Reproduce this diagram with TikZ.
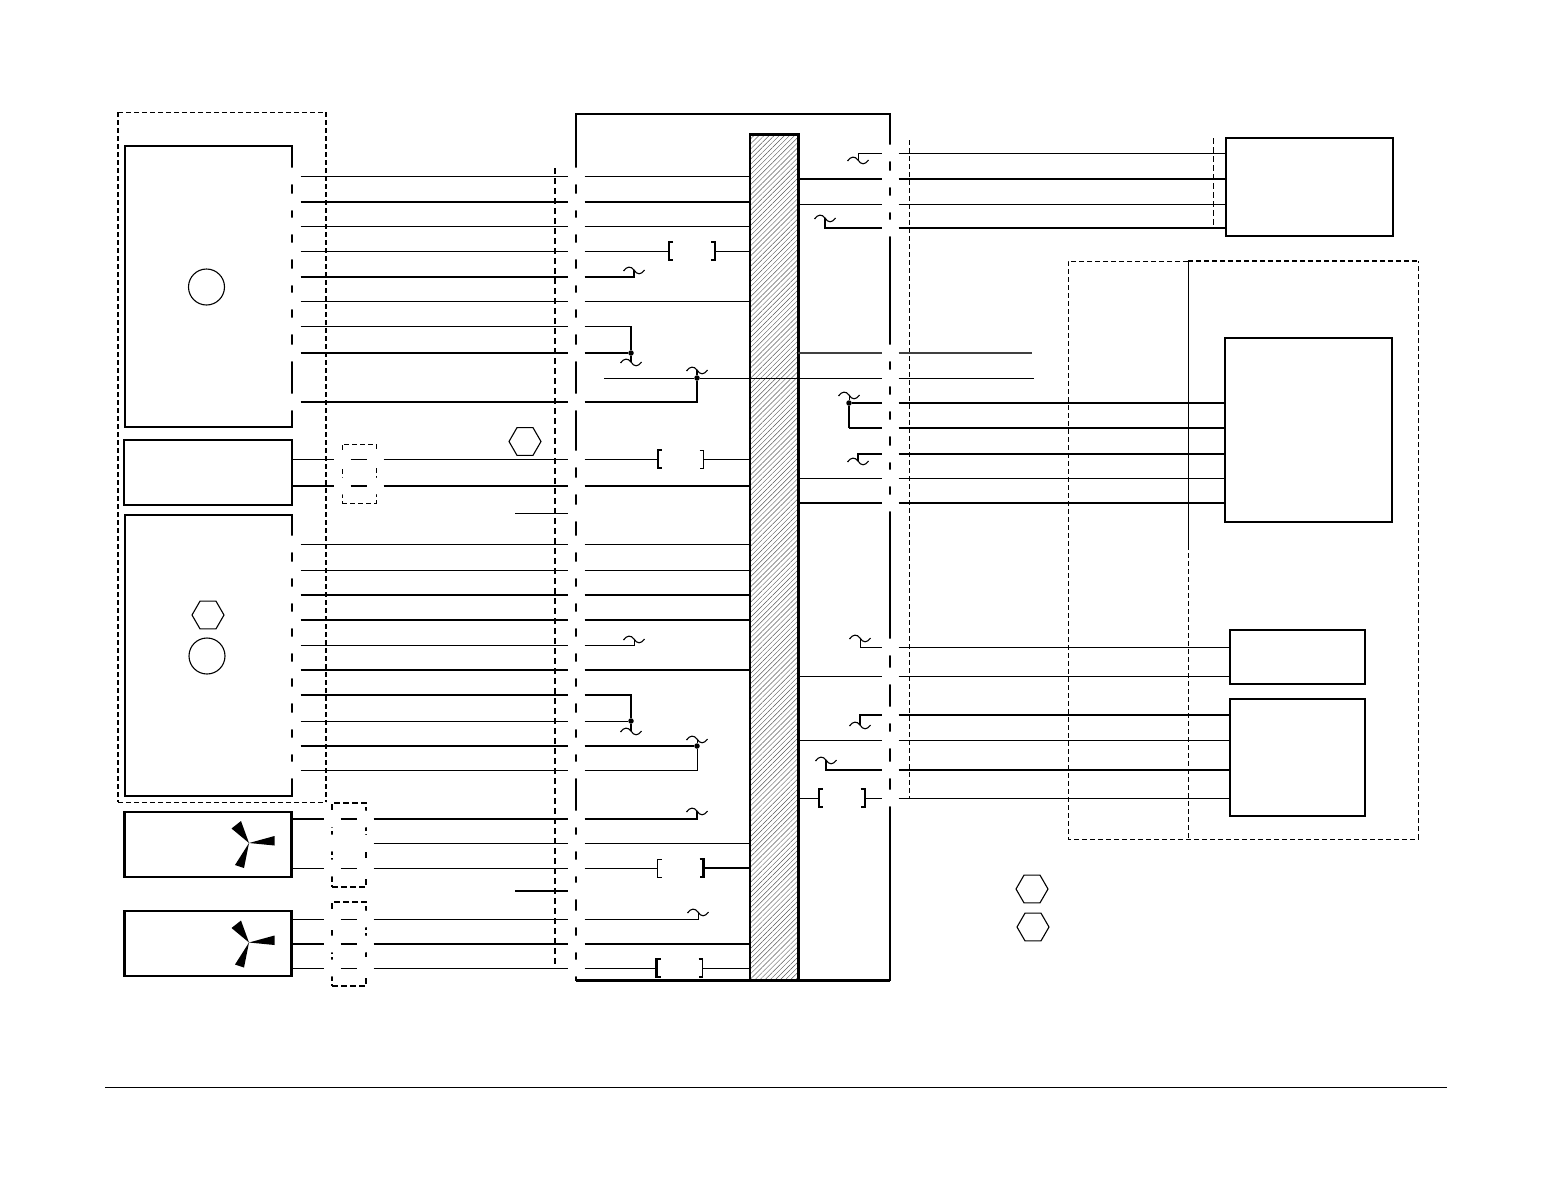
\documentclass[tikz,border=0pt]{standalone}
\usepackage{tikz}
\usetikzlibrary{patterns.meta,shapes.geometric}

\tikzset{
	wire/.style={line width=1pt},
	hwire/.style={line width=2pt},
	mwire/.style={line width=1.5pt},
	pin/.style={circle,fill=white,inner sep=0pt,outer sep=0pt,minimum size=17pt},
	unit/.style={draw,line width=2.2pt,inner sep=0pt,outer sep=0pt},
	heavyunit/.style={draw,line width=2.6pt,inner sep=0pt,outer sep=0pt},
	enclosure/.style={draw,line width=1pt,dash pattern=on 5pt off 3pt,inner sep=0pt,outer sep=0pt},
	boldedge/.style={line width=1.6pt,dash pattern=on 5pt off 3pt},
	thinedge/.style={line width=1pt,dash pattern=on 5pt off 3pt},
	plug/.style={draw,line width=1.2pt,dash pattern=on 6pt off 3pt,inner sep=0pt,outer sep=0pt},
	hexmark/.style={draw,regular polygon,regular polygon sides=6,line width=1.1pt,inner sep=0pt,minimum size=32pt},
	roundmark/.style={draw,circle,line width=1.1pt,inner sep=0pt,minimum size=36pt},
	dot/.style={circle,fill=black,inner sep=0pt,minimum size=5.5pt},
	fusegap/.style={inner sep=0pt,outer sep=0pt,minimum width=46pt,minimum height=18pt},
	wave/.pic={
		\draw[line width=1.1pt] (-10.5,1) .. controls (-7,-4) and (-3,-4) .. (0,0) .. controls (3,5) and (7,5) .. (10.5,0);
	},
	fan/.pic={
		\fill (0,0) -- (-17.5,-14.5) -- (-8,-22) -- cycle;
		\fill (0,0) -- (25.5,-7) -- (25.5,2.5) -- cycle;
		\fill (0,0) -- (-14,22) -- (-5,25) -- cycle;
	}
}

\newcommand{\fuseclip}[5]{
	\node[fusegap] (#1) at (#2,#3) {};
	\draw[line width=#4pt] ([xshift=4pt]#1.north west) -- (#1.north west) -- (#1.south west) -- ([xshift=4pt]#1.south west);
	\draw[line width=#5pt] ([xshift=-4pt]#1.north east) -- (#1.north east) -- (#1.south east) -- ([xshift=-4pt]#1.south east);
}

\begin{document}
\begin{tikzpicture}[x=1pt,y=-1pt]
	\useasboundingbox (0,0) rectangle (1552,1200);

	% cabinets on the left
	\node[inner sep=0pt,outer sep=0pt,minimum width=208,minimum height=690] (hood) at (222,457) {};
	\draw[thinedge] (hood.north west) -- (hood.north east);
	\draw[thinedge] (hood.south west) -- (hood.south east);
	\draw[boldedge] (hood.north east) -- (hood.south east);
	\draw[boldedge] (hood.north west) -- (hood.south west);
	\node[unit,minimum width=167,minimum height=281] (upper) at (208.5,286.5) {};
	\node[heavyunit,minimum width=168,minimum height=65] (lamp) at (208,472.5) {};
	\node[unit,minimum width=167,minimum height=281] (lower) at (208.5,655.5) {};
	\node[heavyunit,minimum width=167,minimum height=65] (fanA) at (208,844.5) {};
	\node[heavyunit,minimum width=167,minimum height=65] (fanB) at (208,943.5) {};
	\node[roundmark] (mark1) at (206.5,287) {};
	\node[roundmark] (mark2) at (207,656) {};
	\node[hexmark] (hex1) at (208,615) {};
	\node[hexmark] (hex2) at (525,441.5) {};
	\pic at (249,843) {fan};
	\pic at (249,942.5) {fan};

	% plugs between
	\node[enclosure,minimum width=34,minimum height=59] (plugA) at (359,473.5) {};
	\node[plug,minimum width=34,minimum height=84] (plugB) at (349,845) {};
	\node[plug,minimum width=34,minimum height=84] (plugC) at (349,944) {};
	\draw[line width=1.5pt,dash pattern=on 6pt off 4pt] (555,168) -- (555,968);

	% controller frame and bar
	\node[draw,line width=2pt,inner sep=0pt,outer sep=0pt,minimum width=314,minimum height=866] (frame) at (733,547) {};
	\draw[line width=3pt] (frame.south west) -- (frame.south east);
	\node[draw,line width=1.8pt,inner sep=0pt,outer sep=0pt,minimum width=48,minimum height=846,
		pattern={Lines[angle=45,distance=3.6pt,line width=0.45pt]},pattern color=black!65] (bar) at (774,557) {};
	\draw[line width=3pt] (bar.north west) -- (bar.north east) -- (bar.south east);
	\draw[wire,dash pattern=on 5pt off 3pt] (909,140) -- (909,798);

	% units on the right
	\node[unit,minimum width=167,minimum height=98] (topunit) at (1309.5,187) {};
	\draw[wire,dash pattern=on 6pt off 3pt] (1213,138) -- (1213,228);
	\node[unit,minimum width=167,minimum height=184] (midunit) at (1308.5,430) {};
	\node[heavyunit,minimum width=135,minimum height=54] (smallunit) at (1297.5,657) {};
	\node[unit,minimum width=135,minimum height=117] (lowunit) at (1297.5,757.5) {};
	\node[inner sep=0pt,outer sep=0pt,minimum width=350,minimum height=578] (zone) at (1243,550) {};
	\coordinate (zonetop) at (1188,261);
	\coordinate (zonemid) at (1188,545);
	\coordinate (zonelow) at (1188,839);
	\draw[thinedge] (zonetop) -- (zone.north west) -- (zone.south west) -- (zone.south east) -- (zone.north east);
	\draw[boldedge] (zonetop) -- (zone.north east);
	\draw[wire] (zonetop) -- (zonemid);
	\draw[thinedge] (zonemid) -- (zonelow);
	\node[hexmark] (hex3) at (1032,889) {};
	\node[hexmark] (hex4) at (1033,927) {};

	% pins
	\foreach \y in {176,202,226,251,277,301,326,353,402,544,570,595,620,645,670,695,721,746,770}
		\node[pin] (a\y) at (292,\y) {};
	\foreach \y in {176,202,226,251,277,301,326,353,402,459,486,513,544,570,595,620,645,670,695,721,746,770,819,843,868,891,919,944,968}
		\node[pin] (b\y) at (576,\y) {};
	\foreach \y in {153,179,204,228,353,378,403,428,454,478,503,647,676,715,740,770,798}
		\node[pin] (r\y) at (890,\y) {};
	\foreach \y in {459,486} {
		\node[pin] (c\y) at (342,\y) {};
		\node[pin] (d\y) at (375,\y) {};
	}
	\foreach \y in {819,843,868,919,944,968} {
		\node[pin] (c\y) at (332,\y) {};
		\node[pin] (d\y) at (365,\y) {};
	}

	% left wires
	\foreach \y/\w in {176/wire,202/hwire,226/wire,251/wire,277/hwire,301/wire,326/wire,353/hwire,402/hwire,
		544/wire,570/wire,595/hwire,620/hwire,645/wire,670/hwire,695/hwire,721/wire,746/hwire,770/wire}
		\draw[\w] (a\y) -- (b\y);
	\foreach \y/\w in {176/wire,202/hwire,226/wire,301/wire,486/hwire,544/wire,570/wire,595/hwire,620/hwire,670/hwire,843/wire,944/hwire}
		\draw[\w] (b\y) -- (bar.west |- b\y);
	\foreach \y/\w/\u in {459/wire/lamp,486/hwire/lamp,819/hwire/fanA,868/wire/fanA,919/wire/fanB,944/hwire/fanB,968/wire/fanB} {
		\draw[\w] (\u.east |- c\y) -- (c\y);
		\draw[\w] (c\y) -- (d\y);
		\draw[\w] (d\y) -- (b\y);
	}
	\draw[wire] (d843) -- (b843);
	\coordinate (stubA) at (515,513);
	\coordinate (stubB) at (515,891);
	\draw[wire] (stubA) -- (b513);
	\draw[hwire] (stubB) -- (b891);

	% fuses
	\fuseclip{f251}{692}{251}{1.4}{2}
	\fuseclip{f459}{680.5}{459}{2}{1}
	\fuseclip{f868}{680.5}{868}{1}{2.2}
	\fuseclip{f967}{679.5}{968}{2.4}{1.4}
	\fuseclip{f798}{841.5}{798}{2}{2}
	\draw[wire] (b251) -- (f251);
	\draw[wire] (f251) -- (bar.west |- f251);
	\draw[wire] (b459) -- (f459);
	\draw[wire] (f459) -- (bar.west |- f459);
	\draw[wire] (b868) -- (f868);
	\draw[hwire] (f868) -- (bar.west |- f868);
	\draw[wire] (b968) -- (f967);
	\draw[wire] (f967) -- (bar.west |- f967);
	\draw[wire] (bar.east |- f798) -- (f798);
	\draw[wire] (f798) -- (r798);

	% joints and waves, left of the bar
	\node[dot] (j353) at (631,353) {};
	\node[dot] (j378) at (697,378) {};
	\node[dot] (j721) at (631,721) {};
	\node[dot] (j746) at (697,746) {};
	\coordinate (k326) at (631,326);
	\coordinate (w270) at (634,270);
	\coordinate (w362) at (631,362);
	\coordinate (w370) at (697,370);
	\coordinate (w639) at (634,639);
	\coordinate (w731) at (631,731);
	\coordinate (w739) at (697,739);
	\coordinate (w811) at (697,811);
	\coordinate (w912) at (698,912);
	\foreach \c in {w270,w362,w370,w639,w731,w739,w811,w912}
		\pic at (\c) {wave};
	\draw[hwire] (b277) -| (w270);
	\draw[wire] (b326) -- (k326);
	\draw[mwire] (k326) -- (j353);
	\draw[hwire] (b353) -- (j353);
	\draw[mwire] (j353) -- (w362);
	\draw[hwire] (b402) -| (j378);
	\draw[mwire] (j378) -- (w370);
	\draw[wire] (b645) -| (w639);
	\draw[hwire] (b695) -| (j721);
	\draw[wire] (b721) -- (j721);
	\draw[mwire] (j721) -- (w731);
	\draw[hwire] (b746) -- (j746);
	\draw[wire] (b770) -| (j746);
	\draw[wire] (j746) -- (w739);
	\draw[hwire] (b819) -| (w811);
	\draw[wire] (b919) -| (w912);

	% right wires
	\foreach \y/\w/\u in {153/wire/topunit,179/hwire/topunit,204/wire/topunit,228/hwire/topunit,
		403/hwire/midunit,428/hwire/midunit,454/hwire/midunit,478/wire/midunit,503/hwire/midunit,
		647/wire/smallunit,676/wire/smallunit,715/hwire/lowunit,740/wire/lowunit,770/hwire/lowunit,798/wire/lowunit}
		\draw[\w] (r\y) -- (\u.west |- r\y);
	\foreach \y/\w in {179/hwire,204/wire,478/wire,503/hwire,676/wire,740/wire}
		\draw[\w] (bar.east |- r\y) -- (r\y);
	\coordinate (loose353) at (1032,353);
	\coordinate (loose378) at (1034,378);
	\coordinate (start378) at (604,378);
	\draw[line width=1.2pt,black!75] (bar.east |- r353) -- (r353);
	\draw[line width=1.2pt,black!75] (r353) -- (loose353);
	\draw[wire] (r378) -- (loose378);
	\draw[wire] (start378) -- (j378);
	\draw[wire] (j378) -- (r378);

	% joints and waves, right of the bar
	\node[dot] (j403) at (849,403) {};
	\coordinate (k428) at (849,428);
	\coordinate (w160) at (858,160);
	\coordinate (w218) at (825,218);
	\coordinate (w395) at (849,395);
	\coordinate (w461) at (858,461);
	\coordinate (w638) at (860,638);
	\coordinate (w725) at (860,725);
	\coordinate (w760) at (826,760);
	\foreach \c in {w160,w218,w395,w461,w638,w725,w760}
		\pic at (\c) {wave};
	\draw[wire] (r153) -| (w160);
	\draw[mwire] (r228) -| (w218);
	\draw[hwire] (r403) -- (j403);
	\draw[hwire] (r428) -- (k428);
	\draw[mwire] (k428) -- (j403);
	\draw[wire] (j403) -- (w395);
	\draw[hwire] (r454) -| (w461);
	\draw[wire] (r647) -| (w638);
	\draw[hwire] (r715) -| (w725);
	\draw[hwire] (r770) -| (w760);

	% rule at the foot
	\coordinate (footL) at (105,1087);
	\coordinate (footR) at (1447,1087);
	\draw[line width=0.8pt] (footL) -- (footR);
\end{tikzpicture}
\end{document}
